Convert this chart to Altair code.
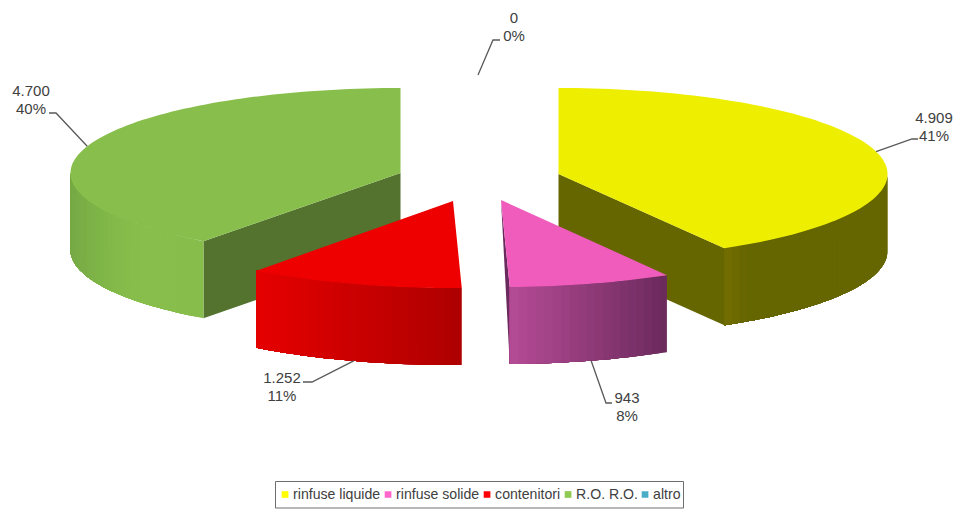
import math
import altair as alt
import pandas as pd

# Traffic by cargo type
categories = ["rinfuse liquide", "rinfuse solide", "contenitori", "R.O. R.O.", "altro"]
values = [4909, 943, 1252, 4700, 0]
value_labels = ["4.909", "943", "1.252", "4.700", "0"]
percent_labels = ["41%", "8%", "11%", "40%", "0%"]
legend_colors = ["#FFFF00", "#FF66CC", "#FF0000", "#8FCB52", "#4BACC6"]

top_colors = ["#EEEE00", "#F05CBC", "#EE0000", "#88BF4C", "#FFFFFF"]
cut_colors = ["#666600", "#6B2A5E", "#AE0000", "#53732E", "#FFFFFF"]
# rim shading from the left end to the right end of each visible rim
rim_stops = [
    [(0.0, "#736F00"), (0.06, "#6E6B00"), (0.12, "#666600"), (1.0, "#666600")],
    [(0.0, "#B54B96"), (1.0, "#6B2A5C")],
    [(0.0, "#E60000"), (1.0, "#AD0000")],
    [(0.0, "#76A944"), (0.25, "#80B748"), (0.55, "#88BF4C"), (1.0, "#86BD4B")],
    [(0.0, "#FFFFFF"), (1.0, "#FFFFFF")],
]

# Exploded wedge centres on the page and the ellipse of the tilted disc
centers = [(558.5, 174, 86), (501, 200, 87), (453, 201, 87), (400.5, 173, 85), (478, 75, 87)]
radius_x = [329, 329, 329, 330, 329]
DEPTH = 77
STEP = 1.5

# Leader elbow, leader end and label centre for each wedge
elbows = [(912, 139), (606, 403), (312, 382), (56, 113), (493, 40)]
leader_ends = [(918, 139), (612, 403), (303, 382), (49, 113), (500, 40)]
label_xy = [(934, 118), (627, 398), (282, 378), (31, 91), (514, 18)]

# Legend frame
FRAME = (275.5, 481.5, 683.5, 508)

W, H = 957, 509
total = sum(values)
FONT = "Liberation Sans"
TEXT = "#404040"


def spans():
    start = 0.0
    for v in values:
        sweep = 360.0 * v / total
        yield start, start + sweep
        start += sweep


def rim_point(i, angle, drop=0.0):
    cx, cy, ry = centers[i]
    rad = math.radians(angle)
    return (cx + radius_x[i] * math.sin(rad), cy - ry * math.cos(rad) + drop)


def feature(points, color):
    ring = [list(p) for p in points] + [list(points[0])]
    return {
        "type": "Feature",
        "geometry": {"type": "Polygon", "coordinates": [ring]},
        "properties": {"shade": color},
    }


def mix(stops, t):
    for (t0, c0), (t1, c1) in zip(stops, stops[1:]):
        if t <= t1:
            f = 0 if t1 == t0 else (t - t0) / (t1 - t0)
            a = [int(c0[k:k + 2], 16) for k in (1, 3, 5)]
            b = [int(c1[k:k + 2], 16) for k in (1, 3, 5)]
            return "#%02X%02X%02X" % tuple(round(x + (y - x) * f) for x, y in zip(a, b))
    return stops[-1][1]


def arc_angles(a0, a1):
    n = max(2, int((a1 - a0) / STEP))
    return [a0 + (a1 - a0) * k / n for k in range(n + 1)]


def top_face(i, a0, a1):
    pts = [rim_point(i, a) for a in arc_angles(a0, a1)]
    return feature([centers[i][:2]] + pts, top_colors[i])


def rim_faces(i, a0, a1):
    """Rim strips painted one over the other so no seam shows between them."""
    lo, hi = max(a0, 90.0), min(a1, 270.0)
    if hi <= lo:
        return []
    angles = arc_angles(lo, hi)
    xs = [rim_point(i, a)[0] for a in angles]
    x_min, x_max = min(xs), max(xs)
    faces = []
    for k, (p, q) in enumerate(zip(angles, angles[1:])):
        mid_x = rim_point(i, (p + q) / 2)[0]
        t = (mid_x - x_min) / (x_max - x_min)
        # each strip runs on to the far end of the rim; the next one covers the rest
        tail = angles[k:]
        outline = [rim_point(i, a) for a in tail] + [rim_point(i, a, DEPTH) for a in reversed(tail)]
        faces.append(feature(outline, mix(rim_stops[i], t)))
    return faces


wedges = list(spans())
(y0, y1), (p0, p1), (r0, r1), (g0, g1), _ = wedges

back_sides = [
    feature([centers[0][:2], rim_point(0, y1), rim_point(0, y1, DEPTH),
             (centers[0][0], centers[0][1] + DEPTH)], cut_colors[0]),
    feature([centers[3][:2], rim_point(3, g0), rim_point(3, g0, DEPTH),
             (centers[3][0], centers[3][1] + DEPTH)], cut_colors[3]),
] + rim_faces(0, y0, y1) + rim_faces(3, g0, g1)
back_tops = [top_face(0, y0, y1), top_face(3, g0, g1)]

front_sides = [
    feature([centers[1][:2], rim_point(1, p1), rim_point(1, p1, DEPTH)], cut_colors[1]),
] + rim_faces(1, p0, p1) + rim_faces(2, r0, r1)
front_tops = [top_face(1, p0, p1), top_face(2, r0, r1)]


def faces_layer(features):
    return (
        alt.Chart(alt.Data(values=features))
        .mark_geoshape(strokeWidth=0)
        .encode(fill=alt.Fill("properties.shade:N", scale=None))
        .project(type="identity", scale=1, translate=[0, 0])
    )


x_scale = alt.Scale(domain=[0, W], range=[0, W])
y_scale = alt.Scale(domain=[0, H], range=[0, H])

# Leader lines start on the rim at the middle of each wedge
leader_rows = []
label_rows = []
for i, (a0, a1) in enumerate(wedges):
    mid = (a0 + a1) / 2
    if values[i] == 0:
        start = centers[i][:2]
    else:
        start = rim_point(i, mid, DEPTH if 90 < mid < 270 else 0)
    for k, pt in enumerate([start, elbows[i], leader_ends[i]]):
        leader_rows.append({"name": categories[i], "k": k, "x": pt[0], "y": pt[1]})
    lx, ly = label_xy[i]
    label_rows.append({"x": lx, "y": ly, "text": value_labels[i]})
    label_rows.append({"x": lx, "y": ly + 18, "text": percent_labels[i]})

leaders = (
    alt.Chart(pd.DataFrame(leader_rows))
    .mark_line(color="#595959", strokeWidth=1.3)
    .encode(
        x=alt.X("x:Q", scale=x_scale, axis=None),
        y=alt.Y("y:Q", scale=y_scale, axis=None),
        detail="name:N",
        order="k:Q",
    )
)

labels = (
    alt.Chart(pd.DataFrame(label_rows))
    .mark_text(font=FONT, fontSize=15, color=TEXT, align="center", baseline="middle")
    .encode(
        x=alt.X("x:Q", scale=x_scale, axis=None),
        y=alt.Y("y:Q", scale=y_scale, axis=None),
        text="text:N",
    )
)

# Invisible marks that carry the legend
legend_layer = (
    alt.Chart(pd.DataFrame({"category": categories, "x": [0] * 5, "y": [0] * 5}))
    .mark_square(opacity=0, size=1)
    .encode(
        x=alt.X("x:Q", scale=x_scale, axis=None),
        y=alt.Y("y:Q", scale=y_scale, axis=None),
        color=alt.Color(
            "category:N",
            scale=alt.Scale(domain=categories, range=legend_colors),
            sort=categories,
            legend=alt.Legend(
                title=None,
                orient="none",
                legendX=275,
                legendY=481,
                direction="horizontal",
                columns=5,
                symbolType="square",
                symbolSize=45,
                symbolOpacity=1,
                symbolStrokeWidth=0,
                symbolOffset=0,
                labelFont=FONT,
                labelFontSize=14.1,
                labelColor=TEXT,
                labelOffset=1,
                columnPadding=-1.75,
                padding=3,
                clipHeight=21,
            ),
        ),
    )
)

fx0, fy0, fx1, fy1 = FRAME
legend_frame = (
    alt.Chart(pd.DataFrame({"x": [fx0], "x2": [fx1], "y": [fy0], "y2": [fy1]}))
    .mark_rect(fillOpacity=0, stroke="#6E6E6E", strokeWidth=1)
    .encode(
        x=alt.X("x:Q", scale=x_scale, axis=None),
        x2="x2:Q",
        y=alt.Y("y:Q", scale=y_scale, axis=None),
        y2="y2:Q",
    )
)

chart = (
    alt.layer(
        faces_layer(back_sides),
        faces_layer(back_tops),
        faces_layer(front_sides),
        faces_layer(front_tops),
        leaders,
        labels,
        legend_layer,
        legend_frame,
    )
    .properties(
        width=W,
        height=H,
        padding=0,
        autosize=alt.AutoSizeParams(type="none"),
        background="#FFFFFF",
    )
    .configure_view(stroke=None)
)

chart.save("out.html", embed_options={"renderer": "svg", "actions": False})
